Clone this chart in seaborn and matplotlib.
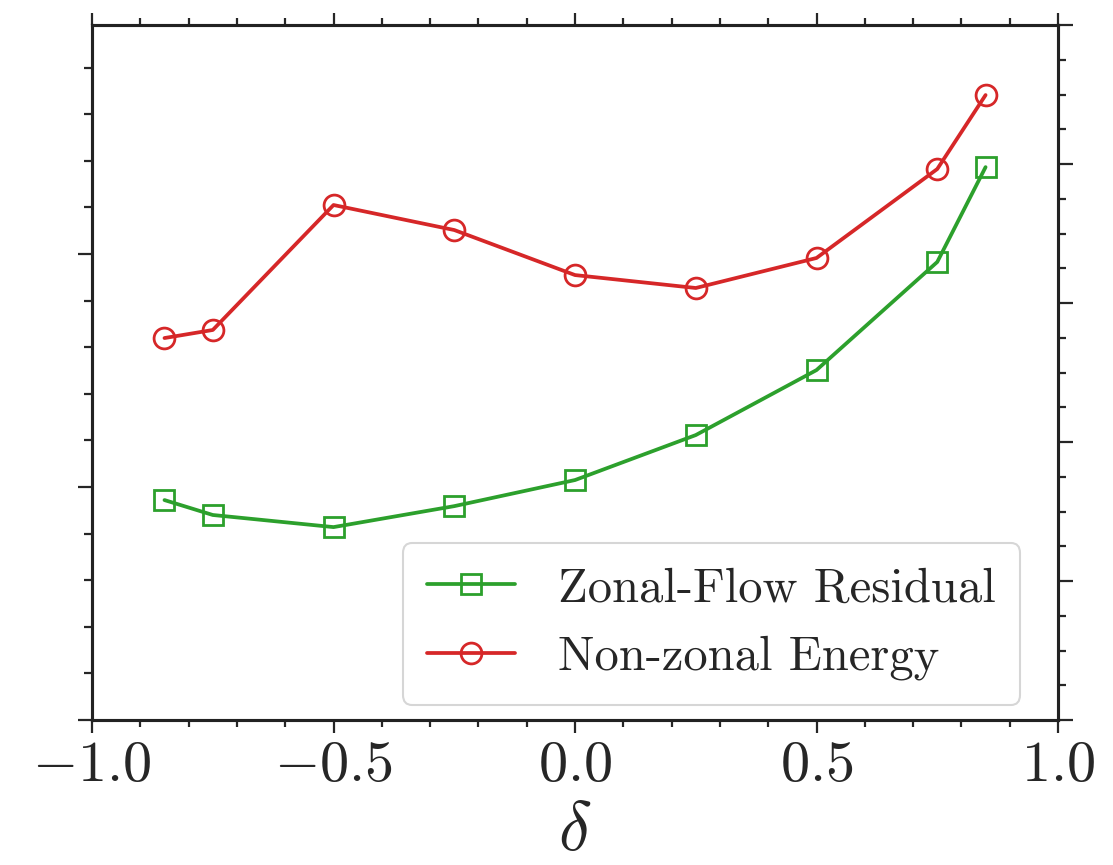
import numpy as np
import pandas as pd
import seaborn as sn
import matplotlib.pyplot as plt
from matplotlib.ticker import MultipleLocator

# values (y in arbitrary units, no y tick labels shown)
delta = [-0.85, -0.75, -0.5, -0.25, 0.0, 0.25, 0.5, 0.75, 0.85]
zonal_residual = [0.944, 0.880, 0.828, 0.918, 1.030, 1.223, 1.502, 1.966, 2.373]
nonzonal_energy = [2.748, 2.806, 3.705, 3.525, 3.201, 3.108, 3.324, 3.964, 4.496]

df = pd.DataFrame({'delta': delta, 'zf': zonal_residual, 'nz': nonzonal_energy})

sn.set_style('ticks')
plt.rcParams['font.family'] = 'serif'
plt.rcParams['font.serif'] = ['cmr10', 'DejaVu Serif']
plt.rcParams['mathtext.fontset'] = 'cm'
plt.rcParams['axes.formatter.use_mathtext'] = True
plt.rcParams['axes.unicode_minus'] = True

fig = plt.figure(figsize=(11.13, 8.65), dpi=100)
ax = fig.add_axes([0.0827, 0.1676, 0.8679, 0.8035])
ax2 = ax.twinx()

sn.lineplot(data=df, x='delta', y='zf', ax=ax, color='tab:green', marker='s',
            markersize=14, markerfacecolor='none', markeredgecolor='tab:green',
            markeredgewidth=2.0, linewidth=2.7, label='Zonal-Flow Residual', legend=False)
sn.lineplot(data=df, x='delta', y='nz', ax=ax2, color='tab:red', marker='o',
            markersize=15, markerfacecolor='none', markeredgecolor='tab:red',
            markeredgewidth=2.0, linewidth=2.7, label='Non-zonal Energy', legend=False)

ax.set_xlim(-1.0, 1.0)
ax.set_ylim(0, 2.983)
ax2.set_ylim(0, 5)

ax.xaxis.set_major_locator(MultipleLocator(0.5))
ax.xaxis.set_minor_locator(MultipleLocator(0.1))
ax.yaxis.set_major_locator(MultipleLocator(1.0))
ax.yaxis.set_minor_locator(MultipleLocator(0.2))
ax2.yaxis.set_major_locator(MultipleLocator(1.0))
ax2.yaxis.set_minor_locator(MultipleLocator(0.25))

ax.tick_params(axis='x', which='both', direction='out', top=True, labeltop=False,
               labelsize=42, width=1.6, pad=6)
ax.tick_params(axis='x', which='major', length=9)
ax.tick_params(axis='x', which='minor', length=5)
ax.tick_params(axis='y', which='both', direction='out', labelleft=False, width=1.6)
ax.tick_params(axis='y', which='major', length=10)
ax.tick_params(axis='y', which='minor', length=6)
ax2.tick_params(axis='y', which='both', direction='out', labelright=False, width=1.6)
ax2.tick_params(axis='y', which='major', length=11)
ax2.tick_params(axis='y', which='minor', length=6)

for a in (ax, ax2):
    for s in a.spines.values():
        s.set_linewidth(2.2)
        s.set_color('#222222')

ax.set_xlabel(r'$\delta$', fontsize=50, labelpad=7)
ax.set_ylabel('')
ax2.set_ylabel('')

h1, l1 = ax.get_legend_handles_labels()
h2, l2 = ax2.get_legend_handles_labels()
leg = ax2.legend(h1 + h2, l1 + l2, loc='lower right', bbox_to_anchor=(0.961, 0.022),
                 borderaxespad=0, fontsize=35, frameon=True, fancybox=True,
                 handlelength=1.8, borderpad=0.5, labelspacing=0.5, handletextpad=0.9)
leg.get_frame().set_edgecolor('#cccccc')
leg.get_frame().set_linewidth(1.5)

fig.savefig('out.png', dpi=100)
